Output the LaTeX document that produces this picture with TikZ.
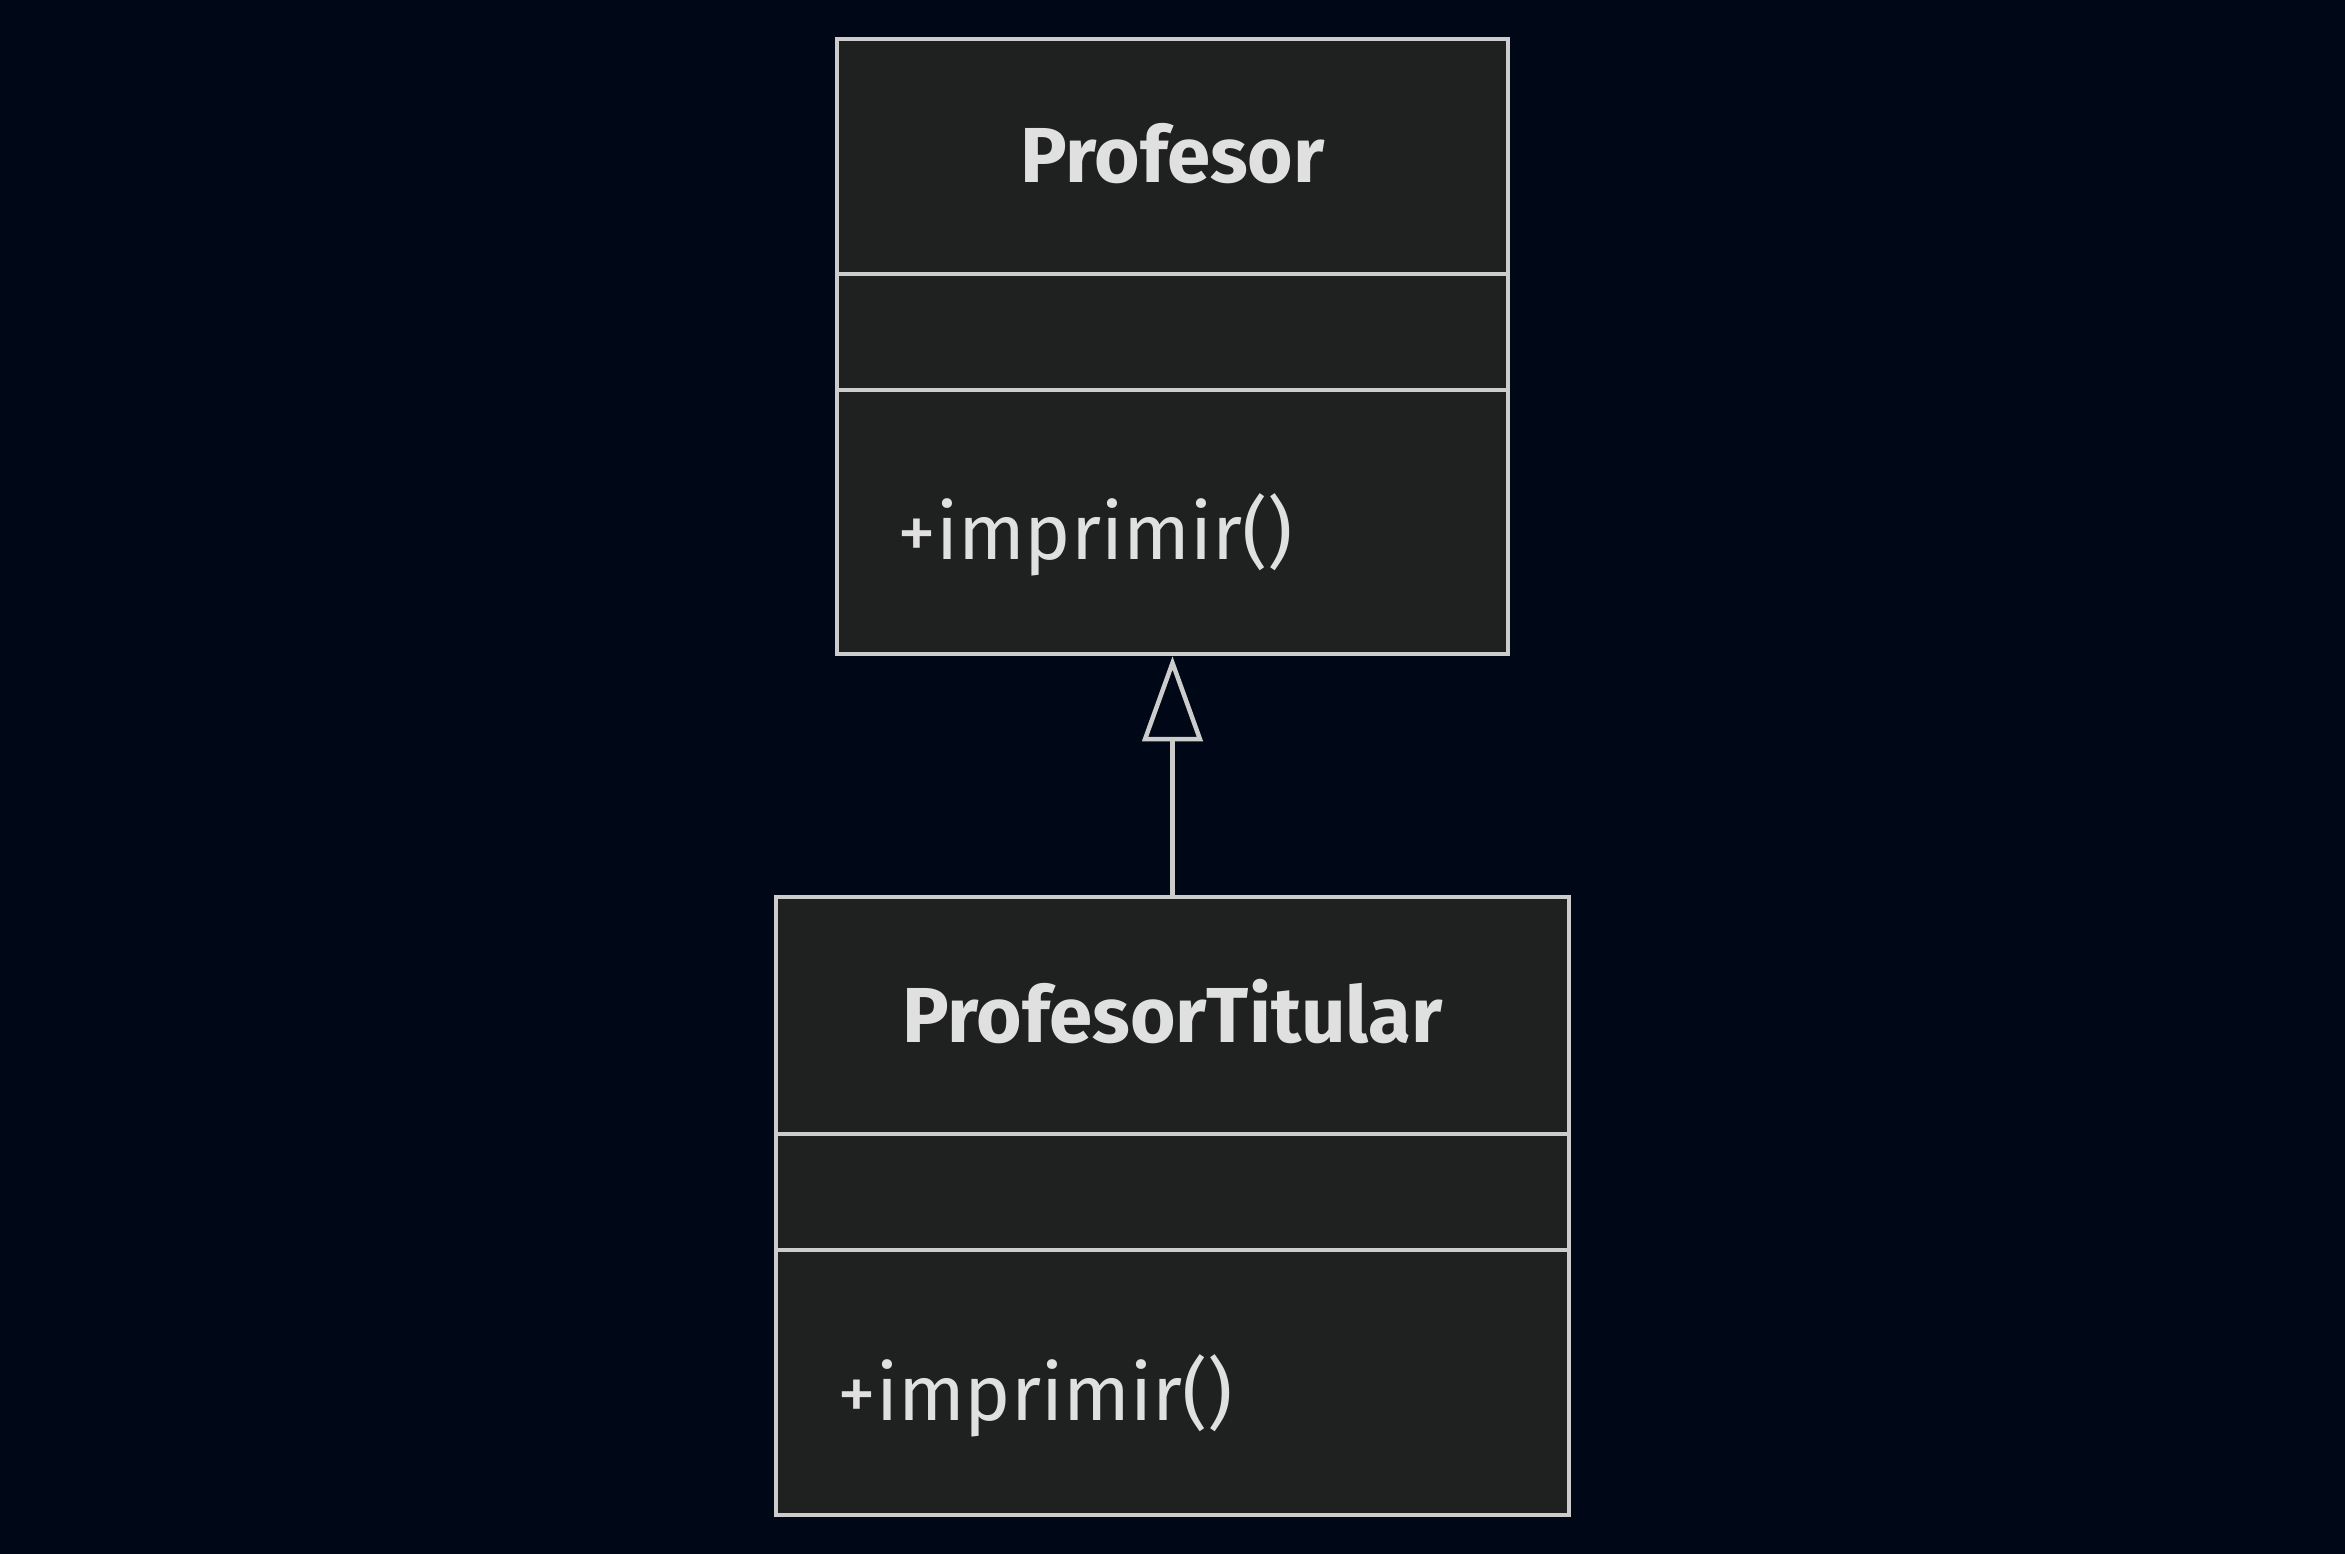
\documentclass[tikz,border=0pt]{standalone}
\usepackage{fontspec}
\setmainfont{Fira Sans}
\usetikzlibrary{arrows.meta}
\definecolor{bgc}{HTML}{000817}
\definecolor{boxfill}{HTML}{1F2020}
\definecolor{edge}{HTML}{CCCCCC}
\definecolor{txt}{HTML}{E0E0E0}
\begin{document}
\begin{tikzpicture}[x=1pt,y=-1pt,
  classbox/.style={draw=edge, fill=boxfill, line width=4.5pt, rectangle, inner sep=0pt},
  divider/.style={draw=edge, line width=4.5pt},
  title/.style={text=txt, font=\fontsize{78}{86}\selectfont\bfseries, inner sep=0pt},
  member/.style={text=txt, font=\fontsize{78}{86}\selectfont, inner sep=0pt, anchor=west},
  inherit/.style={draw=edge, line width=4.5pt, -{Triangle[open, length=85pt, width=60pt, fill=bgc]}}
]
\useasboundingbox[fill=bgc] (0,0) rectangle (2345,1554);
% Profesor
\node[classbox, minimum width=671pt, minimum height=615pt] (p) at (1172.5,346.5) {};
\draw[divider] (837,274) -- (1508,274);
\draw[divider] (837,390) -- (1508,390);
\node[title] (pt) at (1172.5,154) {Profesor};
\node[member] (pm) at (897,535) {+imprimir()};
% ProfesorTitular
\node[classbox, minimum width=793pt, minimum height=618pt] (t) at (1172.5,1206) {};
\draw[divider] (776,1134) -- (1569,1134);
\draw[divider] (776,1250) -- (1569,1250);
\node[title] (tt) at (1172.5,1012) {ProfesorTitular};
\node[member] (tm) at (837,1396) {+imprimir()};
% inheritance
\draw[inherit] (t.north) -- (p.south);
\end{tikzpicture}
\end{document}
